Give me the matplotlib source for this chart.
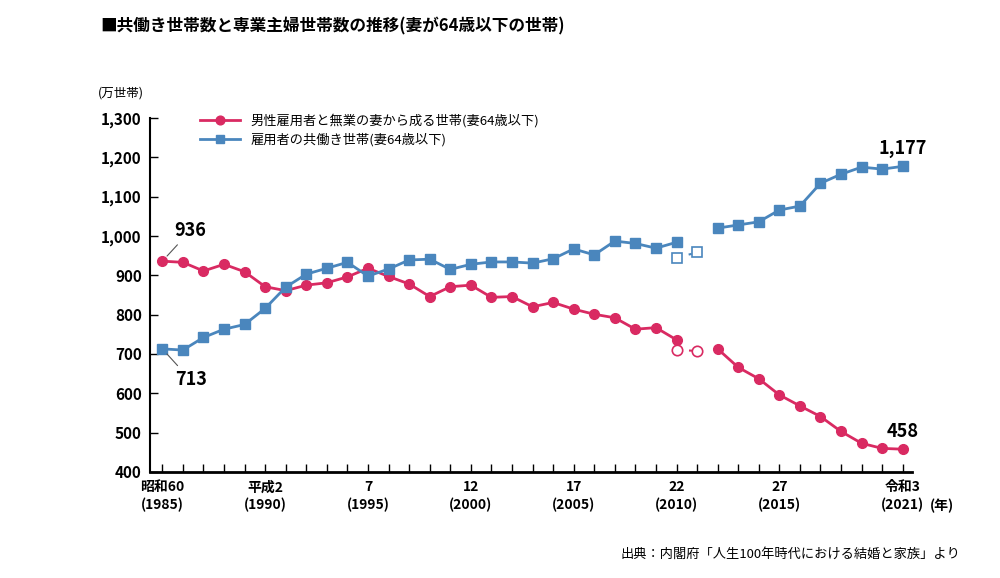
import matplotlib
matplotlib.use("Agg")
import matplotlib.pyplot as plt

plt.rcParams['font.family'] = ['Noto Sans CJK JP', 'DejaVu Sans']

# data (万世帯)
years_a = list(range(1985, 2011))
years_b = list(range(2012, 2022))
years_gap = [2010, 2011]

single_a = [936, 933, 911, 928, 909, 871, 861, 875, 881, 896, 918, 897, 878, 846,
            871, 875, 844, 846, 820, 831, 814, 801, 792, 763, 767, 736]
single_gap = [710, 708]
single_b = [713, 666, 637, 596, 568, 541, 503, 473, 460, 458]

dual_a = [713, 710, 742, 763, 775, 816, 870, 903, 918, 933, 898, 916, 939, 941,
          915, 928, 934, 934, 931, 942, 967, 952, 987, 981, 969, 984]
dual_gap = [945, 958]
dual_b = [1020, 1028, 1036, 1066, 1076, 1134, 1157, 1175, 1170, 1177]

tick_years = [1985, 1990, 1995, 2000, 2005, 2010, 2015, 2021]
tick_labels = ['昭和60\n(1985)', '平成2\n(1990)', '7\n(1995)', '12\n(2000)',
               '17\n(2005)', '22\n(2010)', '27\n(2015)', '令和3\n(2021)']

red = '#d92a62'
blue = '#4a86bd'

fig = plt.figure(figsize=(10, 5.78), dpi=100)
ax = fig.add_axes([0.15, 0.1834, 0.762, 0.6125])

ax.plot(years_a, single_a, color=red, lw=2, marker='o', ms=7, label='男性雇用者と無業の妻から成る世帯(妻64歳以下)')
ax.plot(years_b, single_b, color=red, lw=2, marker='o', ms=7)
ax.plot(years_gap, single_gap, color=red, lw=1.5, ls=(0, (1.5, 4.5)), dash_capstyle='butt',
        marker='o', ms=7.5, mfc='white', mew=1.2)
ax.plot(years_a, dual_a, color=blue, lw=2, marker='s', ms=7, label='雇用者の共働き世帯(妻64歳以下)')
ax.plot(years_b, dual_b, color=blue, lw=2, marker='s', ms=7)
ax.plot(years_gap, dual_gap, color=blue, lw=1.5, ls=(0, (1.5, 4.5)), marker='s', ms=7.5,
        mfc='white', mew=1.2)

ax.set_xlim(1984.4, 2021.45)
ax.set_ylim(400, 1300)
ax.set_yticks(range(400, 1301, 100))
ax.set_yticklabels([f'{v:,}' for v in range(400, 1301, 100)], fontsize=11, fontweight='bold')
ax.set_xticks(range(1985, 2022), minor=True)
ax.set_xticks(tick_years)
ax.set_xticklabels(tick_labels, fontsize=10, fontweight='bold', linespacing=1.3)
ax.tick_params(axis='x', which='both', direction='in', length=6, width=1, pad=6)
ax.tick_params(axis='y', direction='in', length=6, width=1, pad=6)
for s in ['top', 'right']:
    ax.spines[s].set_visible(False)
ax.spines['bottom'].set_linewidth(2)
ax.spines['left'].set_linewidth(1.5)

ax.legend(loc='upper left', bbox_to_anchor=(0.05, 1.045), frameon=False, fontsize=9.5,
          handlelength=3, labelspacing=0.4, markerscale=0.9)

# value labels
ax.annotate('936', xy=(1985, single_a[0]), xytext=(1985.6, 1000), fontsize=13, fontweight='bold',
            arrowprops=dict(arrowstyle='-', color='#555555', lw=0.8, shrinkB=5))
ax.annotate('713', xy=(1985, dual_a[0]), xytext=(1985.6, 620), fontsize=13, fontweight='bold',
            arrowprops=dict(arrowstyle='-', color='#555555', lw=0.8, shrinkB=5))
ax.text(2021, dual_b[-1] + 20, '1,177', fontsize=13, fontweight='bold', ha='center', va='bottom')
ax.text(2021, single_b[-1] + 20, '458', fontsize=13, fontweight='bold', ha='center', va='bottom')

fig.text(0.1, 0.945, '■共働き世帯数と専業主婦世帯数の推移(妻が64歳以下の世帯)', fontsize=12, fontweight='bold')
fig.text(0.098, 0.833, '(万世帯)', fontsize=9)
fig.text(0.93, 0.117, '(年)', fontsize=10, fontweight='bold')
fig.text(0.96, 0.035, '出典：内閣府「人生100年時代における結婚と家族」より', fontsize=9.5, ha='right')

fig.savefig('out.png', dpi=100)
